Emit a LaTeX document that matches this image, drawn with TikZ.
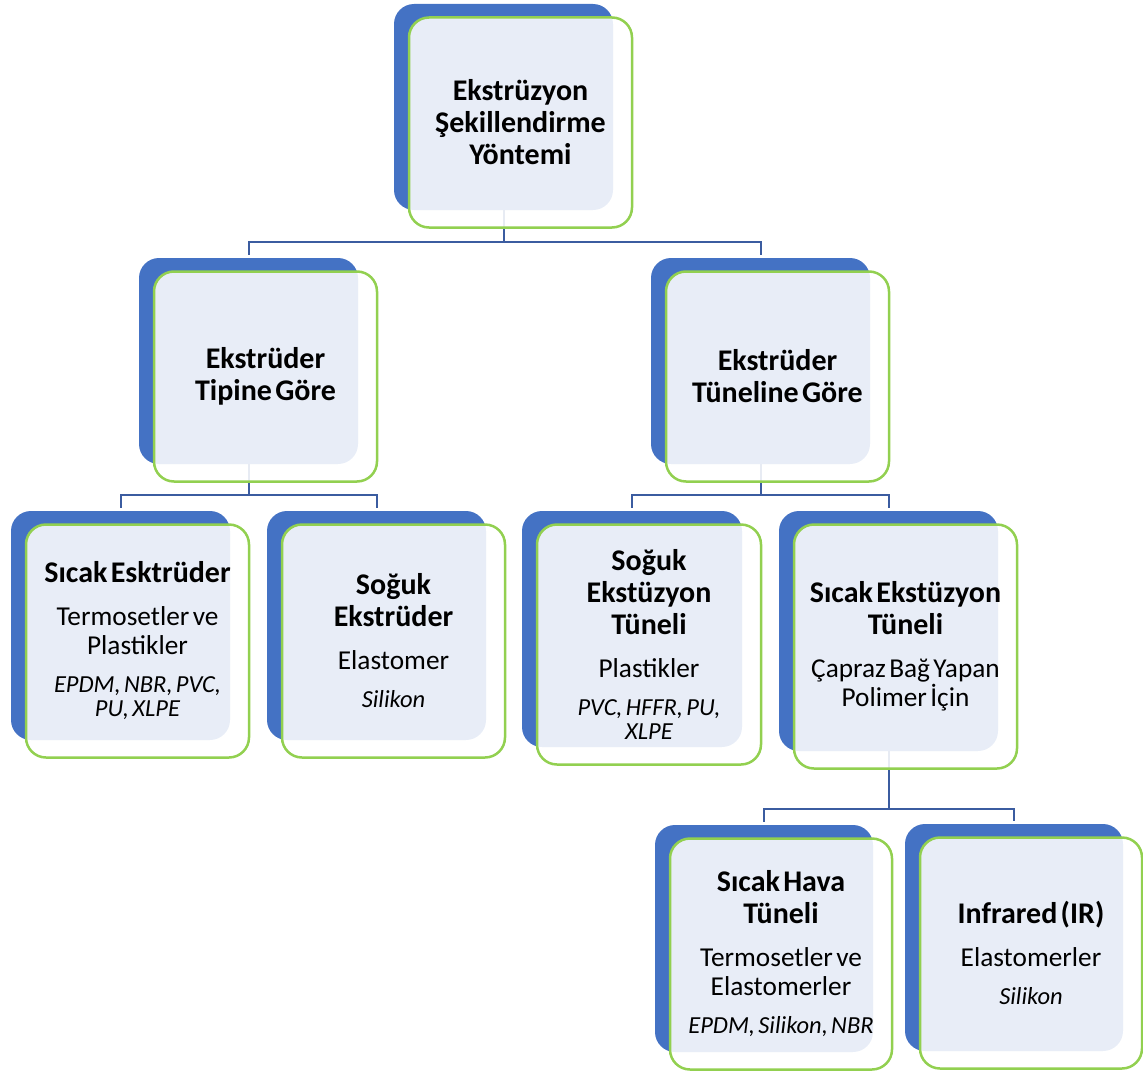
\documentclass[tikz,border=0pt]{standalone}
\usepackage{fontspec}
\setmainfont{Carlito}
\usetikzlibrary{calc,backgrounds}
\definecolor{bluebk}{HTML}{4472C4}
\definecolor{greenln}{HTML}{92D050}
\definecolor{connc}{HTML}{3B5CA0}
\newcommand\ttl{\fontsize{30}{32}\selectfont\bfseries}
\newcommand\bdy{\fontsize{27.3}{29}\selectfont\mdseries\upshape}
\newcommand\itl{\fontsize{24.5}{24}\selectfont\mdseries\itshape}
\newcommand\gap{\par\vskip14pt}
\tikzset{
  bluebox/.style={fill=bluebk, rounded corners=20pt, inner sep=0pt, draw=none},
  greenbox/.style={draw=greenln, line width=2.5pt, fill=white, fill opacity=0.88,
    draw opacity=1, text opacity=1, rounded corners=20pt, inner sep=0pt,
    text width=218pt, align=center},
  conn/.style={draw=connc, line width=2pt, shorten >=2.5pt}
}
% name, cx, cy, w, h, text  (blue box centre/size)
\newcommand\orgbox[6]{%
  \node[bluebox, minimum width=#4pt, minimum height=#5pt] (#1b) at (#2,#3) {};
  \node[greenbox, minimum width=#4pt+4pt, minimum height=#5pt+4pt] (#1) at (#2+17,#3+15.5) {#6\par};
}
\begin{document}
\begin{tikzpicture}[x=1pt,y=-1pt]
\useasboundingbox (0,0) rectangle (1143,1073);
\orgbox{top}{503.5}{107}{219}{206}{\ttl Ekstrüzyon\\Şekillendirme\\Yöntemi}
\orgbox{lA}{248.5}{361}{219}{206}{\ttl Ekstrüder\\Tipine Göre}
\orgbox{lB}{760.5}{361}{219}{206}{\ttl Ekstrüder\\Tüneline Göre}
\orgbox{bA}{120.5}{625.5}{219}{229}{\ttl Sıcak Esktrüder\gap\bdy Termosetler ve\\Plastikler\gap\itl EPDM, NBR, PVC,\\PU, XLPE}
\orgbox{bB}{376.5}{625.5}{219}{229}{\ttl Soğuk\\Ekstrüder\gap\bdy Elastomer\gap\itl Silikon}
\orgbox{bC}{632}{629}{220}{236}{\ttl Soğuk\\Ekstüzyon\\Tüneli\gap\bdy Plastikler\gap\itl PVC, HFFR, PU,\\XLPE}
\orgbox{bD}{888.5}{631}{219}{240}{\ttl Sıcak Ekstüzyon\\Tüneli\gap\bdy Çapraz Bağ Yapan\\Polimer İçin}
\orgbox{cA}{764}{938.5}{218}{227}{\ttl Sıcak Hava\\Tüneli\gap\bdy Termosetler ve\\Elastomerler\gap\itl EPDM, Silikon, NBR}
\orgbox{cB}{1014}{937.5}{218}{227}{\ttl Infrared (IR)\gap\bdy Elastomerler\gap\itl Silikon}
\begin{pgfonlayer}{background}
\coordinate (j1) at (503.5,242);
\coordinate (j2) at (248.5,494.5);
\coordinate (j3) at (760.5,494.5);
\coordinate (j4) at (888.5,809);
\draw[conn, shorten >=0pt] (topb.south) -- (j1);
\draw[conn] (j1) -| (lAb.north);
\draw[conn] (j1) -| (lBb.north);
\draw[conn, shorten >=0pt] (lAb.south) -- (j2);
\draw[conn] (j2) -| (bAb.north);
\draw[conn] (j2) -| (bBb.north);
\draw[conn, shorten >=0pt] (lBb.south) -- (j3);
\draw[conn] (j3) -| (bCb.north);
\draw[conn] (j3) -| (bDb.north);
\draw[conn, shorten >=0pt] (bDb.south) -- (j4);
\draw[conn] (j4) -| (cAb.north);
\draw[conn] (j4) -| (cBb.north);
\end{pgfonlayer}
\end{tikzpicture}
\end{document}
